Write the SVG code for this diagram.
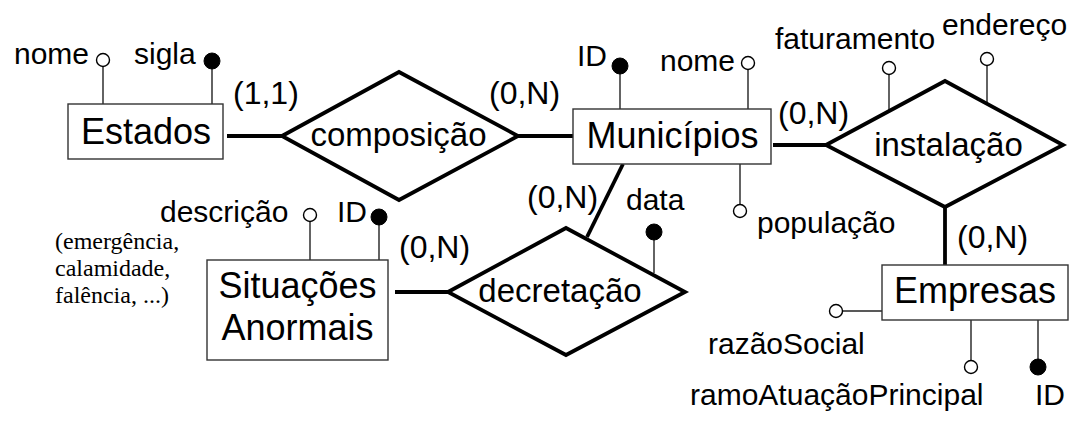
<svg xmlns="http://www.w3.org/2000/svg" width="1085" height="425" viewBox="0 0 1085 425">
<style>
text{font-family:"Liberation Sans",Arial,sans-serif;fill:#000}
.ent{font-size:36px;text-anchor:middle}
.rel{font-size:33px;text-anchor:middle}
.card{font-size:32px}
.att{font-size:30px}
.note{font-family:"Liberation Serif","Times New Roman",serif;font-size:24px}
.box{fill:#fff;stroke:#333;stroke-width:1.4}
.dia{fill:#fff;stroke:#000;stroke-width:3.8;stroke-linejoin:miter}
.rl{stroke:#000;stroke-width:3.8;fill:none}
.al{stroke:#222;stroke-width:1.4;fill:none}
.oc{fill:#fff;stroke:#000;stroke-width:1.4}
.fc{fill:#000;stroke:#000;stroke-width:1}
</style>
<rect width="1085" height="425" fill="#fff"/>
<g id="connectors">
<line class="rl" x1="227" y1="136" x2="282" y2="136"/>
<line class="rl" x1="518" y1="136" x2="573" y2="136"/>
<line class="rl" x1="773" y1="145" x2="826" y2="145"/>
<line class="rl" x1="945" y1="207" x2="945" y2="265"/>
<line class="rl" x1="623" y1="164" x2="587" y2="237"/>
<line class="rl" x1="395" y1="292" x2="448" y2="292"/>
</g>
<g id="estados">
<line class="al" x1="103" y1="67" x2="103" y2="104"/>
<circle class="oc" cx="103" cy="60" r="6.5"/>
<text class="att" x="14" y="64">nome</text>
<line class="al" x1="212" y1="68" x2="212" y2="104"/>
<circle class="fc" cx="212" cy="61" r="8"/>
<text class="att" x="134" y="64">sigla</text>
<rect class="box" x="68" y="104" width="155" height="55"/>
<text class="ent" x="146" y="144">Estados</text>
</g>
<g id="composicao">
<polygon class="dia" points="282,136 399,72 518,136 399,200"/>
<text class="rel" x="398.5" y="146">composição</text>
<text class="card" x="233" y="104">(1,1)</text>
<text class="card" x="489" y="104">(0,N)</text>
</g>
<g id="municipios">
<line class="al" x1="620" y1="73" x2="620" y2="109"/>
<circle class="fc" cx="620" cy="66" r="8"/>
<text class="att" x="577" y="66">ID</text>
<line class="al" x1="748" y1="69.5" x2="748" y2="109"/>
<circle class="oc" cx="748" cy="63" r="6.5"/>
<text class="att" x="660" y="71">nome</text>
<line class="al" x1="740" y1="164" x2="740" y2="204.5"/>
<circle class="oc" cx="740" cy="211" r="6.5"/>
<text class="att" x="757" y="233">população</text>
<rect class="box" x="573" y="109" width="198" height="55"/>
<text class="ent" x="672.5" y="148">Municípios</text>
</g>
<g id="instalacao">
<line class="al" x1="889" y1="74.5" x2="889" y2="110"/>
<circle class="oc" cx="889" cy="68" r="6.5"/>
<text class="att" x="775" y="49">faturamento</text>
<line class="al" x1="987" y1="65.5" x2="987" y2="104"/>
<circle class="oc" cx="987" cy="59" r="6.5"/>
<text class="att" x="942" y="35">endereço</text>
<polygon class="dia" points="826,145 945,81 1063,145 945,207"/>
<text class="rel" x="948.5" y="156">instalação</text>
<text class="card" x="778" y="124">(0,N)</text>
<text class="card" x="957" y="248">(0,N)</text>
</g>
<g id="empresas">
<line class="al" x1="842.5" y1="311" x2="882" y2="311"/>
<circle class="oc" cx="836" cy="311" r="6.5"/>
<text class="att" x="708" y="354">razãoSocial</text>
<line class="al" x1="971" y1="320" x2="971" y2="360.5"/>
<circle class="oc" cx="971" cy="367" r="6.5"/>
<text class="att" x="690" y="405">ramoAtuaçãoPrincipal</text>
<line class="al" x1="1038" y1="320" x2="1038" y2="360"/>
<circle class="fc" cx="1038" cy="367" r="8"/>
<text class="att" x="1035" y="405">ID</text>
<rect class="box" x="882" y="265" width="186" height="55"/>
<text class="ent" x="975" y="303">Empresas</text>
</g>
<g id="decretacao">
<line class="al" x1="654" y1="239" x2="654" y2="273"/>
<circle class="fc" cx="654" cy="232" r="8"/>
<text class="att" x="626" y="210">data</text>
<polygon class="dia" points="448,292 566,228 685,292 566,355"/>
<text class="rel" x="560" y="302">decretação</text>
<text class="card" x="527" y="208">(0,N)</text>
<text class="card" x="399" y="258">(0,N)</text>
</g>
<g id="situacoes">
<line class="al" x1="310" y1="221.5" x2="310" y2="260"/>
<circle class="oc" cx="310" cy="215" r="6.5"/>
<text class="att" x="160" y="222">descrição</text>
<line class="al" x1="379" y1="224" x2="379" y2="260"/>
<circle class="fc" cx="379" cy="217" r="8"/>
<text class="att" x="337" y="222">ID</text>
<rect class="box" x="207" y="260" width="181" height="100"/>
<text class="ent" x="297.5" y="298">Situações</text>
<text class="ent" x="297.5" y="340">Anormais</text>
<text class="note" x="55" y="249">(emergência,</text>
<text class="note" x="55" y="276">calamidade,</text>
<text class="note" x="55" y="303">falência, ...)</text>
</g>
</svg>
